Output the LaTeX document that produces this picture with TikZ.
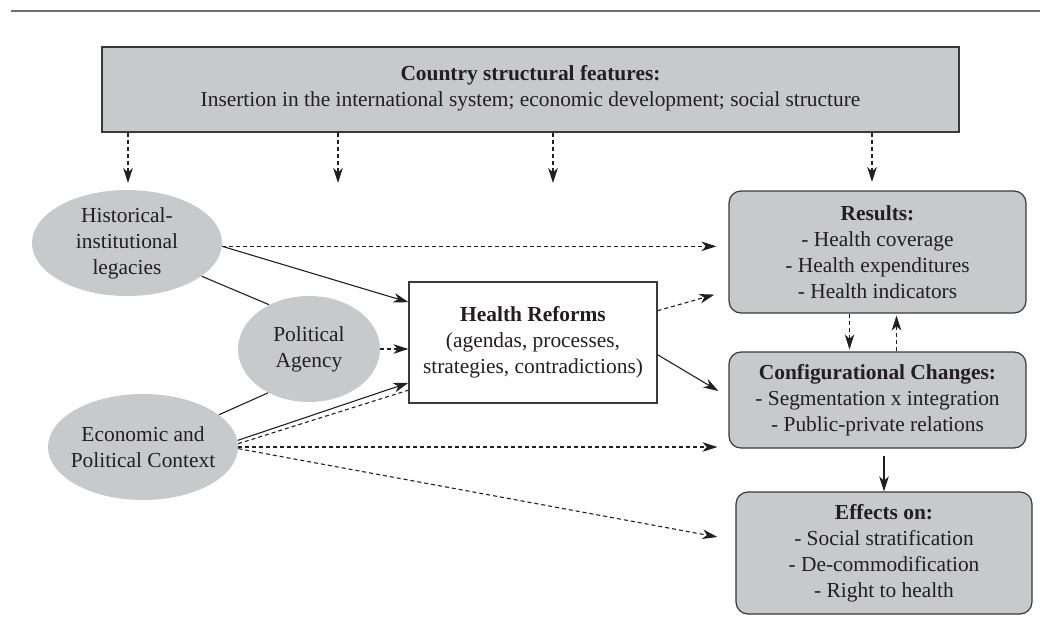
\documentclass[tikz,border=0pt]{standalone}
\usepackage{fontspec}
\setmainfont{Liberation Serif}
\usetikzlibrary{arrows.meta,shapes.geometric,calc}
\definecolor{boxgray}{HTML}{C8C9CB}
\definecolor{edgegray}{HTML}{3A3A3A}
\definecolor{rulegray}{HTML}{6E6E6E}
\definecolor{ink}{HTML}{231F20}
\begin{document}
\begin{tikzpicture}[x=0.5pt,y=-0.5pt,
  txt/.style={font=\fontsize{10.7}{13}\selectfont, align=center, text=ink},
  graybox/.style={txt, draw=edgegray, fill=boxgray, line width=0.6pt, inner sep=0pt},
  roundbox/.style={graybox, rounded corners=6pt},
  oval/.style={txt, ellipse, fill=boxgray, inner xsep=-5pt, inner ysep=-3pt},
  conn/.style={line width=0.55pt, draw=ink},
  arr/.style={conn, -{Stealth[length=7.5pt,width=4.8pt,inset=2.2pt]}},
  dconn/.style={conn, dash pattern=on 2pt off 1.5pt},
  darr/.style={arr, dash pattern=on 2pt off 1.5pt},
]
\useasboundingbox (0,0) rectangle (1040,643);
\draw[rulegray, line width=1pt] (11,11) -- (1040,11);

% nodes
\node[graybox, minimum width=428.5pt, minimum height=42.5pt, text depth=4pt] (csf) at (530.5,89.5)
  {\textbf{Country structural features:}\\Insertion in the international system; economic development; social structure};

\node[oval, minimum width=95pt, minimum height=53pt] (hist) at (127,243)
  {Historical-\\institutional\\legacies};
\node[oval, minimum width=71pt, minimum height=53pt] (agency) at (309,349)
  {Political\\Agency};
\node[oval, minimum width=95pt, minimum height=53pt] (econ) at (143,447)
  {Economic and\\Political Context};

\node[graybox, fill=white, minimum width=124pt, minimum height=60.5pt] (hr) at (533,342.5)
  {\textbf{Health Reforms}\\(agendas, processes,\\strategies, contradictions)};

\node[roundbox, minimum width=148.5pt, minimum height=61pt] (results) at (877.5,252)
  {\textbf{Results:}\\- Health coverage\\- Health expenditures\\- Health indicators};
\node[roundbox, minimum width=148.5pt, minimum height=48pt] (config) at (877.5,400)
  {\textbf{Configurational Changes:}\\- Segmentation x integration\\- Public-private relations};
\node[roundbox, minimum width=148pt, minimum height=61pt] (effects) at (884,553)
  {\textbf{Effects on:}\\- Social stratification\\- De-commodification\\- Right to health};

% top arrows
\coordinate (t1) at (128,183);
\coordinate (t2) at (338,183);
\coordinate (t3) at (553,183);
\coordinate (t4) at (872,182);
\foreach \t in {t1,t2,t3,t4}{\draw[darr] (csf.south -| \t) -- (\t);}

% left side connectors
\draw[darr, shorten >=6pt] (hist.-2) -- (hist.-2 -| results.west);
\draw[arr] (hist.-2) -- ($(hr.north west)!0.17!(hr.south west)$);
\draw[conn] (hist.-24) -- (agency.132);
\draw[darr] (agency.east) -- (agency.east -| hr.west);
\draw[conn] (econ.23) -- (agency.227);
\draw[arr] (econ.4) -- ($(hr.north west)!0.83!(hr.south west)$);
\draw[dconn] (econ.2) -- ($(hr.north west)!0.89!(hr.south west)$);
\draw[darr, shorten >=5.5pt] (econ.east) -- (econ.east -| config.west);
\draw[darr] (econ.-1) -- ($(effects.west)+(-18,-16)$);

% health reforms outputs
\draw[darr] ($(hr.north east)!0.24!(hr.south east)$) -- ($(results.south west)+(-14,-19)$);
\draw[arr] ($(hr.north east)!0.6!(hr.south east)$) -- ($(config.west)+(-10,-9)$);

% right column
\draw[darr, shorten >=1pt] ($(results.south)+(-28,0)$) -- ($(config.north)+(-28,0)$);
\draw[darr, shorten >=1pt] ($(config.north)+(19,0)$) -- ($(results.south)+(19,0)$);
\draw[arr, shorten <=3.5pt] (config.south -| effects.north) -- (effects.north);
\end{tikzpicture}
\end{document}
